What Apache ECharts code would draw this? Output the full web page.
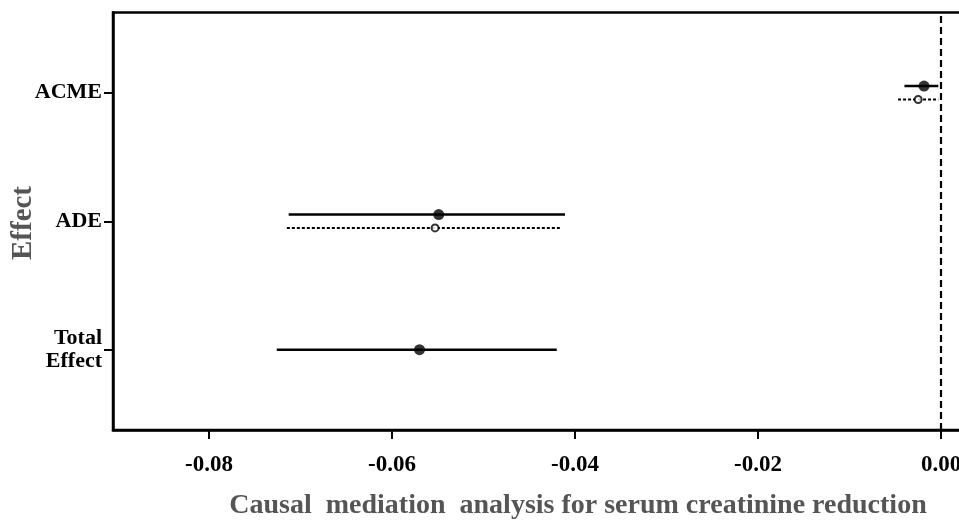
<!DOCTYPE html>
<html><head><meta charset="utf-8">
<script src="https://cdn.jsdelivr.net/npm/echarts@6/dist/echarts.min.js"></script>
<style>html,body{margin:0;padding:0;background:#fff;overflow:hidden}#c{width:969px;height:523px}</style>
</head><body><div id="c"></div>
<script>
// Categories (y positions 1,2,3 from bottom)
const categories = ['Total\nEffect', 'ADE', 'ACME'];
const xTicks = [-0.08, -0.06, -0.04, -0.02, 0.00];
// Solid estimates (all three effects)
const solidEst = [-0.0570, -0.0549, -0.00186];
const solidLo  = [-0.0726, -0.0713, -0.0040];
const solidHi  = [-0.0420, -0.0411, -0.0003];
// Dotted estimates (ADE, ACME only)
const dotCats = ['ADE', 'ACME'];
const dotEst = [-0.0553, -0.0025];
const dotLo  = [-0.0715, -0.0047];
const dotHi  = [-0.0415, -0.0003];

const OFF = 0.052; // vertical nudge between paired rows
const catPos = c => categories.indexOf(c) + 1;

const solidY = categories.map((c, i) => (c === 'Total\nEffect') ? catPos(c) : catPos(c) + OFF);
const dotY = dotCats.map(c => catPos(c) - OFF);

const solidBars = solidEst.map((_, i) => [solidLo[i], solidHi[i], solidY[i]]);
const dotBars = dotEst.map((_, i) => [dotLo[i], dotHi[i], dotY[i]]);
const solidPts = solidEst.map((v, i) => [v, solidY[i]]);
const dotPts = dotEst.map((v, i) => [v, dotY[i]]);

const serif = '"Liberation Serif", "Times New Roman", serif';

function barRenderer(dash) {
  return function (params, api) {
    const p1 = api.coord([api.value(0), api.value(2)]);
    const p2 = api.coord([api.value(1), api.value(2)]);
    return {
      type: 'line',
      shape: { x1: p1[0], y1: p1[1], x2: p2[0], y2: p2[1] },
      style: { stroke: '#000', lineWidth: dash ? 2 : 2.5, lineDash: dash || null }
    };
  };
}

const chart = echarts.init(document.getElementById('c'), null, { renderer: 'canvas' });
chart.setOption({
  animation: false,
  backgroundColor: '#fff',
  grid: { left: 113, top: 12.5, bottom: 93, right: 0.5, show: true, borderColor: '#000', borderWidth: 2.5, containLabel: false },
  xAxis: {
    type: 'value', min: -0.0905, max: 0.003,
    axisLine: { show: true, onZero: false, lineStyle: { color: '#000', width: 2.5 } },
    axisTick: { show: true, length: 9, lineStyle: { color: '#000', width: 2 }, customValues: xTicks },
    axisLabel: { customValues: xTicks, formatter: v => v.toFixed(2), margin: 24, color: '#000', fontFamily: serif, fontWeight: 'bold', fontSize: 23 },
    splitLine: { show: false }
  },
  yAxis: {
    type: 'value', min: 0.375, max: 3.625,
    axisLine: { show: true, onZero: false, lineStyle: { color: '#000', width: 2.5 } },
    axisTick: { show: true, length: 9, lineStyle: { color: '#000', width: 2 }, customValues: [1, 2, 3] },
    axisLabel: { customValues: [1, 2, 3], formatter: v => categories[Math.round(v) - 1] || '', margin: 11, color: '#000', fontFamily: serif, fontWeight: 'bold', fontSize: 22, lineHeight: 23, align: 'right', padding: [11, 0, 0, 0] },
    splitLine: { show: false }
  },
  graphic: [
    { type: 'text', x: 578, y: 506, style: { text: 'Causal  mediation  analysis for serum creatinine reduction', align: 'center', verticalAlign: 'middle', fill: '#555', font: 'bold 28px ' + serif } },
    { type: 'text', x: 24, y: 223, rotation: Math.PI / 2, style: { text: 'Effect', align: 'center', verticalAlign: 'middle', fill: '#555', font: 'bold 29px ' + serif } }
  ],
  series: [
    { type: 'custom', renderItem: barRenderer(null), data: solidBars, encode: { x: [0, 1], y: 2 }, silent: true, z: 2,
      markLine: { silent: true, symbol: ['none', 'none'], label: { show: false }, lineStyle: { color: '#000', type: [7, 4], width: 2.2 }, data: [{ xAxis: 0 }] } },
    { type: 'custom', renderItem: barRenderer([3, 2]), data: dotBars, encode: { x: [0, 1], y: 2 }, silent: true, z: 2 },
    { type: 'scatter', data: solidPts, symbol: 'circle', symbolSize: 11, itemStyle: { color: '#000' }, z: 3, silent: true },
    { type: 'scatter', data: dotPts, symbol: 'circle', symbolSize: 7, itemStyle: { color: '#fff', borderColor: '#000', borderWidth: 2 }, z: 3, silent: true }
  ]
});
</script></body></html>
